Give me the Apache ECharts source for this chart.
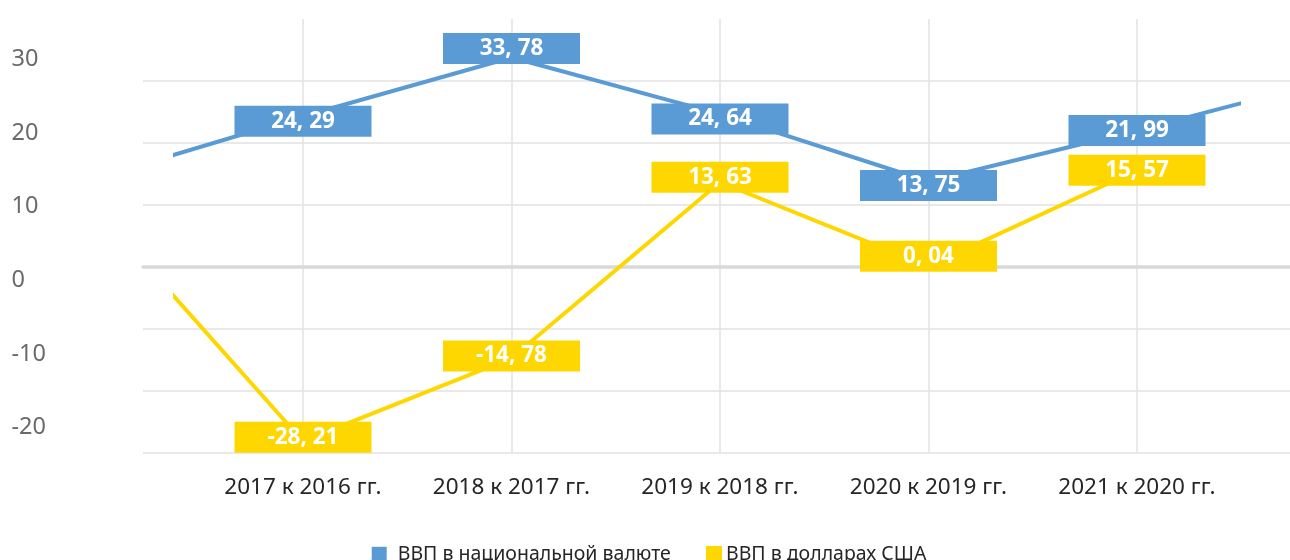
<!DOCTYPE html>
<html>
<head>
<meta charset="utf-8">
<style>
  html, body { margin: 0; padding: 0; background: #ffffff; }
  #chart { width: 1290px; height: 560px; }
</style>
<script src="https://cdn.jsdelivr.net/npm/echarts@6/dist/echarts.min.js"></script>
</head>
<body>
<div id="chart"></div>
<script>
// ---------------- data ----------------
const categories = ['2017 к 2016 гг.', '2018 к 2017 гг.', '2019 к 2018 гг.', '2020 к 2019 гг.', '2021 к 2020 гг.'];
const seriesNames = ['ВВП в национальной валюте', 'ВВП в долларах США'];
const gdpNational = [24.29, 33.78, 24.64, 13.75, 21.99];
const gdpUsd = [-28.21, -14.78, 13.63, 0.04, 15.57];
// the lines run in from / out past the plot edges (neighbouring periods, estimated from the slopes)
const gdpNationalBefore = 14.2;
const gdpNationalAfter = 30.8;
const gdpUsdBefore = 9.6;
const gdpUsdAfter = null;
const yTickLabels = [-20, -10, 0, 10, 20, 30];

// ---------------- styling / layout ----------------
const FONT = 'Noto Sans';
const BLUE = '#5B9BD5';
const YELLOW = '#FFD700';
const GRID_COLOR = '#e2e2e2';
const H = 560;
const PLOT_TOP = 19, PLOT_BOTTOM = 452.3;        // pixel rows of y=40 and y=-30
const CAT_X0 = 303, CAT_STEP = 208.5;           // first category centre, category spacing
const LINE_X0 = 175, LINE_X1 = 1239;            // where the drawn lines are cut
const lastCatX = CAT_X0 + CAT_STEP * (categories.length - 1);
// small vertical nudges of the value boxes (px) as in the original layout
const nudgeNational = [5, -9, 5, 4, 0];
const nudgeUsd = [-4, -2, -5, -10, 0];

function buildData(before, values, after, nudges) {
  const pts = [];
  if (before != null) pts.push({ value: [-1, before], label: { show: false } });
  values.forEach((v, i) => pts.push({ value: [i, v], label: { offset: [0, nudges[i]] } }));
  if (after != null) pts.push({ value: [values.length, after], label: { show: false } });
  return pts;
}

function labelStyle(color) {
  return {
    show: true,
    position: 'inside',
    formatter: p => p.value[1].toFixed(2).replace('.', ', '),
    color: '#ffffff',
    fontFamily: FONT,
    fontWeight: 'bold',
    fontSize: 22.5,
    backgroundColor: color,
    width: 137,
    height: 31,
    lineHeight: 31,
    align: 'center',
    verticalAlign: 'middle',
    padding: 0
  };
}

const common = { containLabel: false, outerBoundsMode: 'none' };
const chart = echarts.init(document.getElementById('chart'), null, { renderer: 'canvas' });

const option = {
  backgroundColor: '#ffffff',
  animation: false,
  textStyle: { fontFamily: FONT },
  grid: [
    // 0: horizontal gridlines (-30 .. 30) and zero line
    Object.assign({ left: 143, right: 0, top: PLOT_TOP + (PLOT_BOTTOM - PLOT_TOP) * 10 / 70, bottom: H - PLOT_BOTTOM }, common),
    // 1: category axis (vertical gridlines and labels)
    Object.assign({ left: CAT_X0, right: 1290 - lastCatX, top: PLOT_TOP, bottom: H - PLOT_BOTTOM }, common),
    // 2: series area
    Object.assign({ left: LINE_X0, right: 1290 - LINE_X1, top: PLOT_TOP, bottom: H - PLOT_BOTTOM }, common),
    // 3: y tick labels
    Object.assign({ left: 143, right: 0, top: 59.3, bottom: H - 427.7 }, common)
  ],
  xAxis: [
    { gridIndex: 0, type: 'value', min: 0, max: 1, show: true,
      axisLine: { show: true, onZero: true, lineStyle: { color: '#d9d9d9', width: 3.5 } },
      axisTick: { show: false }, axisLabel: { show: false }, splitLine: { show: false } },
    { gridIndex: 1, type: 'category', data: categories, boundaryGap: false,
      axisLine: { show: false, onZero: false }, axisTick: { show: false },
      axisLabel: { show: true, interval: 0, margin: 24, fontSize: 22.5, color: '#262626', fontFamily: FONT },
      splitLine: { show: true, lineStyle: { color: GRID_COLOR, width: 1.5 } } },
    { gridIndex: 2, type: 'value',
      min: (LINE_X0 - CAT_X0) / CAT_STEP, max: (LINE_X1 - CAT_X0) / CAT_STEP,
      show: false, splitLine: { show: false } },
    { gridIndex: 3, type: 'value', min: 0, max: 1, show: false, splitLine: { show: false } }
  ],
  yAxis: [
    { gridIndex: 0, type: 'value', min: -30, max: 30, interval: 10,
      axisLine: { show: false }, axisTick: { show: false }, axisLabel: { show: false },
      splitLine: { show: true, lineStyle: { color: GRID_COLOR, width: 1.5 } } },
    { gridIndex: 1, type: 'value', min: 0, max: 1, show: false, splitLine: { show: false } },
    { gridIndex: 2, type: 'value', min: -30, max: 40, show: false, splitLine: { show: false } },
    { gridIndex: 3, type: 'value',
      min: yTickLabels[0], max: yTickLabels[yTickLabels.length - 1], interval: 10,
      axisLine: { show: false }, axisTick: { show: false }, splitLine: { show: false },
      axisLabel: { show: true, align: 'left', margin: 131.5, fontSize: 23.5, color: '#6a6a6a', fontFamily: FONT } }
  ],
  legend: [
    { data: [seriesNames[0]], left: 371.7, top: 544.3, padding: 0, icon: 'rect',
      itemWidth: 15, itemHeight: 15,
      textStyle: { fontSize: 19.5, color: '#262626', fontFamily: FONT, lineHeight: 15, padding: [0, 0, 0, 6] } },
    { data: [seriesNames[1]], left: 706, top: 544, padding: 0, icon: 'rect',
      itemWidth: 16, itemHeight: 16,
      textStyle: { fontSize: 19.5, color: '#262626', fontFamily: FONT, lineHeight: 16, padding: [0, 0, 0, -1] } }
  ],
  series: [
    { name: seriesNames[0], type: 'line', xAxisIndex: 2, yAxisIndex: 2,
      data: buildData(gdpNationalBefore, gdpNational, gdpNationalAfter, nudgeNational),
      clip: true, showSymbol: true, symbol: 'circle', symbolSize: 0,
      itemStyle: { color: BLUE }, lineStyle: { color: BLUE, width: 4 },
      label: labelStyle(BLUE), emphasis: { disabled: true } },
    { name: seriesNames[1], type: 'line', xAxisIndex: 2, yAxisIndex: 2,
      data: buildData(gdpUsdBefore, gdpUsd, gdpUsdAfter, nudgeUsd),
      clip: true, showSymbol: true, symbol: 'circle', symbolSize: 0,
      itemStyle: { color: YELLOW }, lineStyle: { color: YELLOW, width: 4 },
      label: labelStyle(YELLOW), emphasis: { disabled: true } }
  ]
};
chart.setOption(option);
</script>
</body>
</html>
